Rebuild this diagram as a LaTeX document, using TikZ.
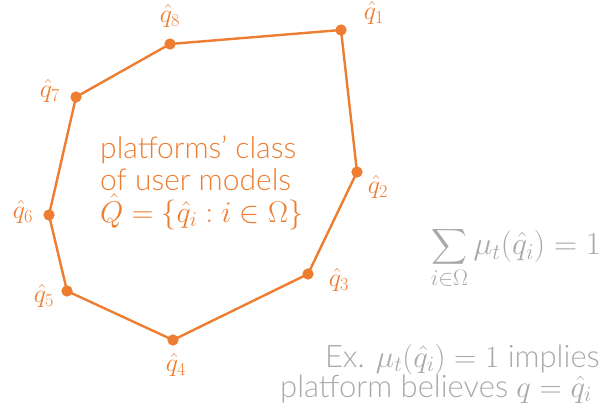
\RequirePackage{fix-cm}
\documentclass[tikz,border=0pt]{standalone}
\usepackage{amsmath}
\usepackage{fontspec}
\setmainfont{Lato Light}
\definecolor{org}{HTML}{ED7D31}
\definecolor{gry}{HTML}{A9A9A9}
\begin{document}
\begin{tikzpicture}[x=1pt,y=-1pt,
  pt/.style={circle,fill=org,inner sep=0pt,minimum size=11pt},
  lbl/.style={text=org,font=\fontsize{26}{26}\selectfont,inner sep=0pt},
  edge/.style={draw=org,line width=2.4pt},
  otxt/.style={text=org,font=\fontsize{30}{31}\selectfont,anchor=base west,inner sep=0pt},
  gtxt/.style={text=gry,font=\fontsize{31}{30}\selectfont,anchor=base east,inner sep=0pt}]
\useasboundingbox (0,0) rectangle (613,416);
\node[pt] (q1) at (341,30) {};
\node[pt] (q2) at (357,172) {};
\node[pt] (q3) at (308,274) {};
\node[pt] (q4) at (173,340) {};
\node[pt] (q5) at (67,291) {};
\node[pt] (q6) at (49,215) {};
\node[pt] (q7) at (76,97) {};
\node[pt] (q8) at (170,44) {};
\draw[edge] (q1.center) -- (q2.center) -- (q3.center) -- (q4.center) -- (q5.center) -- (q6.center) -- (q7.center) -- (q8.center) -- (q1.center);
\foreach \n in {1,...,8} \node[pt] at (q\n) {};
\node[lbl] (l1) at (374,13) {$\hat{q}_1$};
\node[lbl] (l2) at (378,187) {$\hat{q}_2$};
\node[lbl] (l3) at (339,280) {$\hat{q}_3$};
\node[lbl] (l4) at (176,365) {$\hat{q}_4$};
\node[lbl] (l5) at (44,296) {$\hat{q}_5$};
\node[lbl] (l6) at (23,212) {$\hat{q}_6$};
\node[lbl] (l7) at (50,91) {$\hat{q}_7$};
\node[lbl] (l8) at (170,16) {$\hat{q}_8$};
\node[otxt] (t1) at (100,158) {platforms' class};
\node[otxt] (t2) at (100,190) {of user models};
\node[otxt] (t3) at (100,222) {$\hat{Q}=\{\hat{q}_i : i\in\Omega\}$};
\node[text=gry,font=\fontsize{32}{32}\selectfont,anchor=east,inner sep=0pt] (sum) at (601,258)
 {$\displaystyle\sum_{i\in\Omega}\mu_t(\hat{q}_i)=1$};
\node[gtxt] (e1) at (600,367) {Ex. $\mu_t(\hat{q}_i)=1$ implies};
\node[gtxt] (e2) at (592,397) {platform believes $q=\hat{q}_i$};
\end{tikzpicture}
\end{document}
